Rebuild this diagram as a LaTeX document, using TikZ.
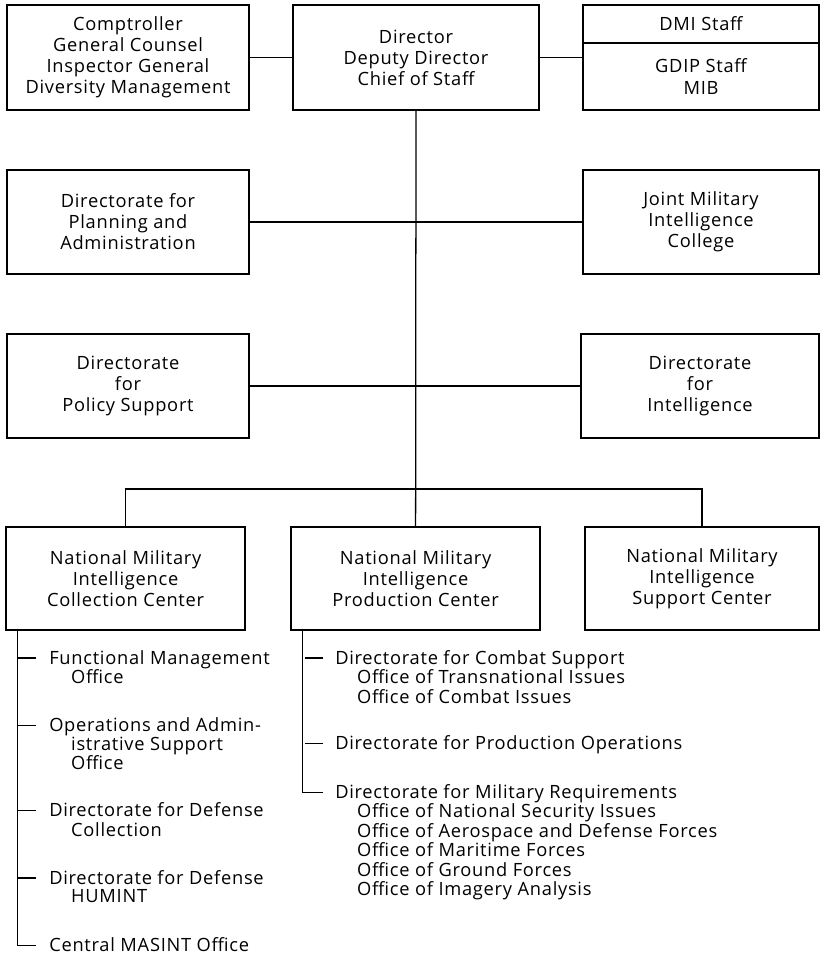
\documentclass[tikz,border=0pt]{standalone}
\usepackage{fontspec}
\setmainfont{Open Sans}[LetterSpace=4]
\usepackage{tikz}
\usetikzlibrary{positioning}
\tikzset{
	unit/.style  ={rectangle, draw=black, line width=1.3pt, align=center, minimum width=6.05cm, minimum height=2.62cm, inner sep=0pt},
	link/.style  ={line width=0.9pt},
	entry/.style ={anchor=base west, inner sep=0pt, font=\fontsize{13}{13.1}\selectfont},
}
\newcommand{\sub}{\hspace*{1.2em}}

\begin{document}
\begin{tikzpicture}[font=\fontsize{13}{15}\selectfont]
	\useasboundingbox (0,0) rectangle (20.55,-23.9);
	% top row
	\node[unit] (comp) at (3.2,-1.44) {Comptroller\\ General Counsel\\ Inspector General\\ Diversity Management};
	\node[unit, minimum width=6.15cm] (dir) at (10.4,-1.44) {Director\\ Deputy Director\\ Chief of Staff};
	\node[unit, minimum width=5.9cm, minimum height=0.95cm] (dmi) at (17.525,-0.6) {DMI Staff};
	\node[unit, minimum width=5.9cm, minimum height=1.675cm] (gdip) at (17.525,-1.9125) {GDIP Staff\\ MIB};
	% directorates
	\node[unit] (plan) at (3.2,-5.55) {Directorate for\\ Planning and\\ Administration};
	\node[unit, minimum width=5.9cm] (jmic) at (17.525,-5.55) {Joint Military\\ Intelligence\\ College};
	\node[unit] (pol) at (3.2,-9.65) {Directorate\\ for\\ Policy Support};
	\node[unit, minimum width=5.95cm] (intel) at (17.5,-9.65) {Directorate\\ for\\ Intelligence};
	% centers
	\node[unit, minimum width=5.975cm, minimum height=2.575cm] (coll) at (3.14,-14.46) {National Military\\ Intelligence\\ Collection Center};
	\node[unit, minimum width=6.225cm, minimum height=2.575cm] (prod) at (10.39,-14.46) {National Military\\ Intelligence\\ Production Center};
	\node[unit, minimum width=5.85cm, minimum height=2.575cm] (supp) at (17.55,-14.46) {National Military\\ Intelligence\\ Support Center};
	\coordinate (bus) at (10.39,-12.225);

	\draw[link] (comp.east) -- (dir.west);
	\draw[link] (dir.east) -- (dir.east -| gdip.west);
	\draw[link] (dir.south) -- (prod.north);
	\draw[link] (plan.east) -- (jmic.west);
	\draw[link] (pol.east) -- (intel.west);
	\draw[link] (coll.north) |- (bus) -| (supp.north);

	% collection center offices
	\node[entry] (fmo) at (1.225,-16.6)  {\begin{tabular}[t]{@{}l@{}}Functional Management\\ \sub Office\end{tabular}};
	\node[entry] (oas) at (1.225,-18.28) {\begin{tabular}[t]{@{}l@{}}Operations and Admin-\\ \sub istrative Support\\ \sub Office\end{tabular}};
	\node[entry] (ddc) at (1.225,-20.42) {\begin{tabular}[t]{@{}l@{}}Directorate for Defense\\ \sub Collection\end{tabular}};
	\node[entry] (dhu) at (1.225,-22.1)  {\begin{tabular}[t]{@{}l@{}}Directorate for Defense\\ \sub HUMINT\end{tabular}};
	\node[entry] (cmo) at (1.225,-23.78) {Central MASINT Office};
	\draw[link] ([xshift=0.3cm]coll.south west) |- ([xshift=-0.325cm,yshift=0.15cm]cmo.base west);
	\foreach \n in {fmo,oas,ddc,dhu}
		\draw[link] ([xshift=-0.325cm,yshift=0.15cm]\n.base west) -- ++(-0.45,0);

	% production center directorates
	\node[entry] (dcs) at (8.375,-16.6)  {\begin{tabular}[t]{@{}l@{}}Directorate for Combat Support\\ \sub Office of Transnational Issues\\ \sub Office of Combat Issues\end{tabular}};
	\node[entry] (dpo) at (8.375,-18.74) {Directorate for Production Operations};
	\node[entry] (dmr) at (8.375,-19.96) {\begin{tabular}[t]{@{}l@{}}Directorate for Military Requirements\\ \sub Office of National Security Issues\\ \sub Office of Aerospace and Defense Forces\\ \sub Office of Maritime Forces\\ \sub Office of Ground Forces\\ \sub Office of Imagery Analysis\end{tabular}};
	\draw[link] ([xshift=0.3cm]prod.south west) |- ([xshift=-0.3cm,yshift=0.15cm]dmr.base west);
	\foreach \n in {dcs,dpo}
		\draw[link] ([xshift=-0.3cm,yshift=0.15cm]\n.base west) -- ++(-0.45,0);
\end{tikzpicture}
\end{document}
